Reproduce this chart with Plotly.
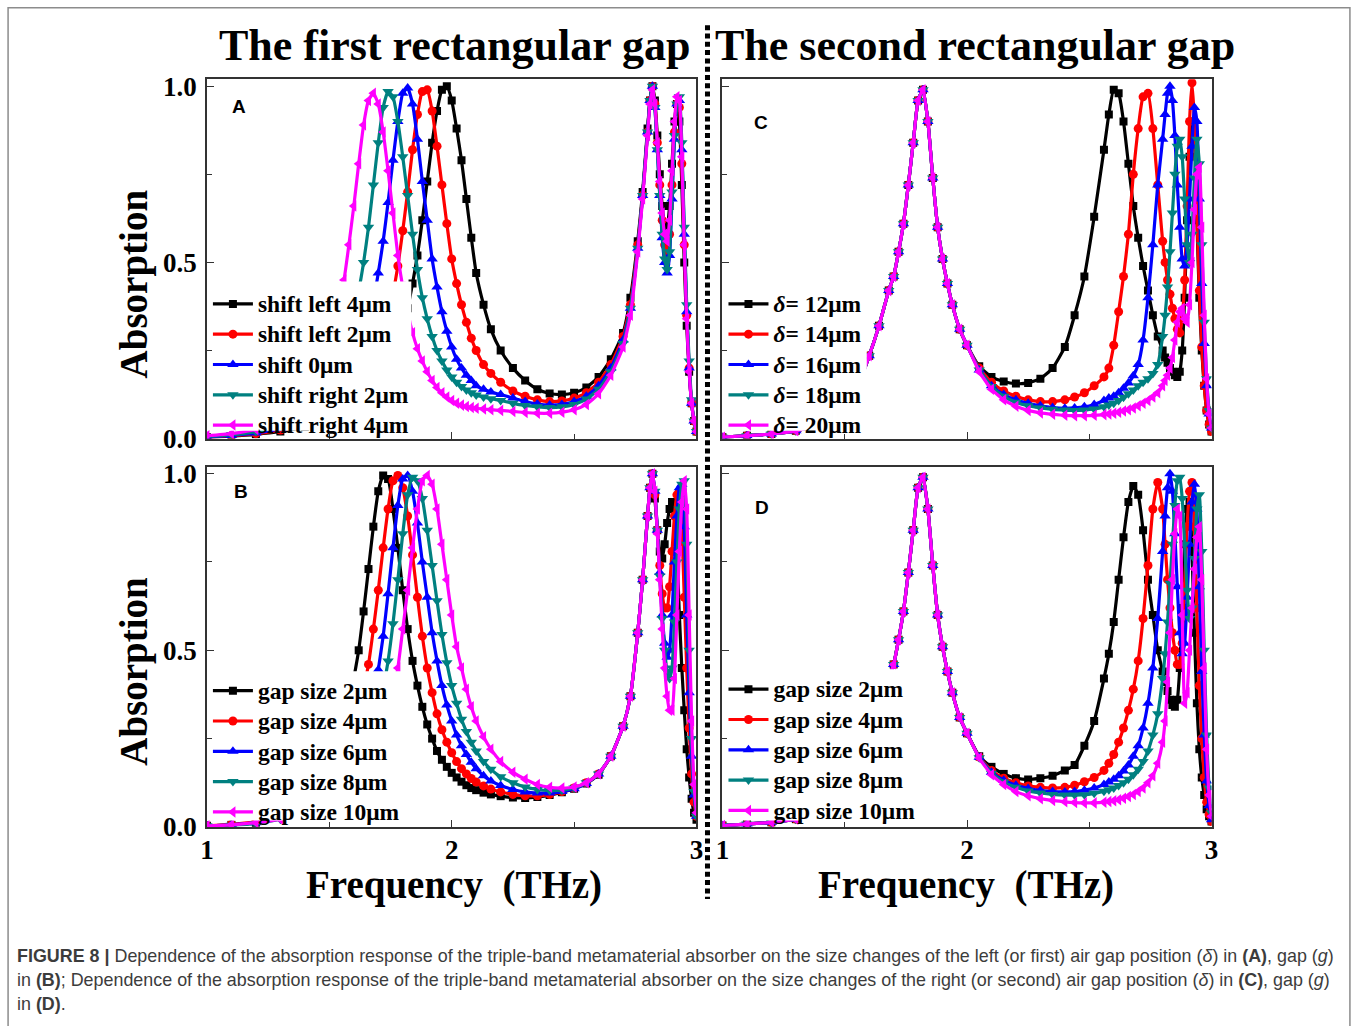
import plotly.graph_objects as go

# ------------------------------------------------------------------ data
# Panels A and B share this frequency grid (THz)
freq_ab = [1.00, 1.10, 1.20, 1.30, 1.40, 1.50,
           1.54, 1.56, 1.58, 1.60, 1.62, 1.64, 1.66, 1.68, 1.70, 1.72, 1.74, 1.76, 1.78, 1.80,
           1.82, 1.84, 1.86, 1.88, 1.90, 1.92, 1.94, 1.96, 1.98, 2.00, 2.02, 2.04, 2.06, 2.08, 2.10,
           2.13, 2.16, 2.20, 2.25, 2.30, 2.35, 2.40, 2.45, 2.50, 2.55, 2.60, 2.65, 2.70,
           2.73, 2.76, 2.78, 2.80, 2.81, 2.82, 2.83, 2.84, 2.85, 2.86, 2.87, 2.88, 2.89,
           2.90, 2.91, 2.92, 2.93, 2.94, 2.95, 2.96, 2.97, 2.98, 2.99, 3.00]

# Panel A : first gap shifted
a_shift_left4 = [0.004, 0.007, 0.012, 0.020, 0.033, 0.055,
                 0.068, 0.075, 0.082, 0.090, 0.100, 0.110, 0.125, 0.140, 0.160, 0.180, 0.205, 0.235, 0.270, 0.320,
                 0.370, 0.440, 0.520, 0.620, 0.730, 0.840, 0.930, 0.990, 1.000, 0.960, 0.880, 0.790, 0.680, 0.570, 0.470,
                 0.380, 0.310, 0.250, 0.200, 0.165, 0.140, 0.128, 0.125, 0.130, 0.145, 0.175, 0.225, 0.300,
                 0.400, 0.560, 0.700, 0.880, 0.960, 1.000, 0.960, 0.860, 0.750, 0.660, 0.610, 0.600, 0.660,
                 0.780, 0.900, 0.950, 0.900, 0.720, 0.500, 0.320, 0.190, 0.100, 0.050, 0.020]
a_shift_left2 = [0.004, 0.008, 0.014, 0.024, 0.040, 0.070,
                 0.085, 0.095, 0.107, 0.120, 0.140, 0.160, 0.185, 0.215, 0.250, 0.295, 0.345, 0.410, 0.490, 0.590,
                 0.700, 0.820, 0.920, 0.985, 0.990, 0.930, 0.830, 0.720, 0.610, 0.510, 0.440, 0.380, 0.330, 0.285, 0.250,
                 0.210, 0.185, 0.160, 0.135, 0.120, 0.110, 0.105, 0.107, 0.115, 0.130, 0.160, 0.210, 0.290,
                 0.380, 0.550, 0.690, 0.870, 0.960, 1.000, 0.950, 0.840, 0.720, 0.620, 0.550, 0.520, 0.580,
                 0.720, 0.870, 0.950, 0.940, 0.780, 0.550, 0.350, 0.200, 0.100, 0.050, 0.020]
a_shift_0 = [0.005, 0.009, 0.016, 0.028, 0.060, 0.100,
             0.130, 0.150, 0.175, 0.200, 0.235, 0.280, 0.330, 0.390, 0.470, 0.560, 0.670, 0.790, 0.900, 0.980,
             0.995, 0.950, 0.850, 0.730, 0.620, 0.510, 0.430, 0.360, 0.305, 0.260, 0.225, 0.200, 0.180, 0.165, 0.150,
             0.140, 0.132, 0.125, 0.115, 0.105, 0.098, 0.095, 0.097, 0.105, 0.120, 0.150, 0.200, 0.280,
             0.370, 0.540, 0.690, 0.870, 0.960, 1.000, 0.940, 0.820, 0.690, 0.570, 0.500, 0.470, 0.520,
             0.680, 0.850, 0.950, 0.960, 0.820, 0.580, 0.360, 0.200, 0.100, 0.050, 0.020]
a_shift_right2 = [0.006, 0.011, 0.020, 0.035, 0.080, 0.160,
                  0.210, 0.250, 0.300, 0.360, 0.420, 0.500, 0.600, 0.720, 0.840, 0.940, 0.985, 0.970, 0.900, 0.800,
                  0.690, 0.580, 0.480, 0.400, 0.340, 0.290, 0.250, 0.220, 0.195, 0.175, 0.160, 0.148, 0.138, 0.130, 0.124,
                  0.118, 0.113, 0.108, 0.100, 0.094, 0.090, 0.088, 0.090, 0.097, 0.112, 0.140, 0.190, 0.270,
                  0.370, 0.540, 0.690, 0.870, 0.960, 1.000, 0.940, 0.820, 0.690, 0.580, 0.510, 0.480, 0.530,
                  0.700, 0.860, 0.950, 0.970, 0.840, 0.600, 0.380, 0.220, 0.110, 0.050, 0.020]
a_shift_right4 = [0.008, 0.014, 0.026, 0.050, 0.130, 0.280,
                  0.380, 0.450, 0.550, 0.660, 0.780, 0.890, 0.960, 0.980, 0.950, 0.870, 0.760, 0.640, 0.520, 0.430,
                  0.360, 0.300, 0.255, 0.220, 0.190, 0.165, 0.145, 0.130, 0.118, 0.108, 0.100, 0.095, 0.091, 0.088, 0.086,
                  0.084, 0.082, 0.080, 0.077, 0.074, 0.072, 0.072, 0.075, 0.082, 0.097, 0.127, 0.180, 0.260,
                  0.350, 0.530, 0.680, 0.860, 0.950, 0.990, 0.950, 0.840, 0.730, 0.640, 0.580, 0.560, 0.620,
                  0.760, 0.900, 0.970, 0.960, 0.800, 0.550, 0.340, 0.190, 0.100, 0.050, 0.020]

# Panel B : first gap size
b_gap2 = [0.003, 0.006, 0.012, 0.030, 0.080, 0.180,
          0.245, 0.290, 0.345, 0.420, 0.500, 0.610, 0.730, 0.850, 0.950, 0.995, 0.985, 0.900, 0.790, 0.670,
          0.560, 0.470, 0.400, 0.340, 0.290, 0.250, 0.215, 0.190, 0.170, 0.153, 0.140, 0.128, 0.118, 0.110, 0.104,
          0.097, 0.092, 0.087, 0.083, 0.082, 0.085, 0.090, 0.098, 0.108, 0.123, 0.148, 0.200, 0.285,
          0.370, 0.550, 0.700, 0.880, 0.960, 1.000, 0.930, 0.840, 0.780, 0.760, 0.800, 0.860, 0.900,
          0.920, 0.900, 0.780, 0.600, 0.450, 0.330, 0.220, 0.140, 0.080, 0.040, 0.020]
b_gap4 = [0.003, 0.007, 0.015, 0.035, 0.070, 0.130,
          0.170, 0.200, 0.230, 0.270, 0.320, 0.390, 0.460, 0.560, 0.670, 0.790, 0.900, 0.980, 0.995, 0.960,
          0.880, 0.770, 0.650, 0.540, 0.450, 0.380, 0.320, 0.275, 0.240, 0.210, 0.185, 0.165, 0.150, 0.137, 0.127,
          0.116, 0.107, 0.099, 0.092, 0.088, 0.088, 0.092, 0.100, 0.110, 0.125, 0.150, 0.200, 0.285,
          0.370, 0.550, 0.700, 0.880, 0.960, 1.000, 0.940, 0.840, 0.740, 0.660, 0.620, 0.620, 0.680,
          0.780, 0.880, 0.940, 0.950, 0.850, 0.650, 0.450, 0.280, 0.150, 0.070, 0.030]
b_gap6 = [0.003, 0.006, 0.012, 0.028, 0.055, 0.090,
          0.120, 0.140, 0.160, 0.185, 0.215, 0.255, 0.300, 0.365, 0.445, 0.540, 0.660, 0.790, 0.910, 0.985,
          0.995, 0.950, 0.860, 0.750, 0.650, 0.550, 0.470, 0.400, 0.345, 0.300, 0.260, 0.230, 0.205, 0.183, 0.165,
          0.145, 0.130, 0.117, 0.106, 0.099, 0.096, 0.096, 0.100, 0.108, 0.123, 0.150, 0.200, 0.285,
          0.370, 0.550, 0.700, 0.880, 0.960, 1.000, 0.950, 0.840, 0.720, 0.600, 0.520, 0.480, 0.500,
          0.600, 0.750, 0.880, 0.960, 0.970, 0.850, 0.600, 0.380, 0.200, 0.090, 0.030]
b_gap8 = [0.003, 0.005, 0.010, 0.022, 0.040, 0.070,
          0.095, 0.110, 0.130, 0.150, 0.170, 0.200, 0.230, 0.270, 0.320, 0.390, 0.470, 0.575, 0.700, 0.830,
          0.940, 0.990, 0.980, 0.930, 0.840, 0.740, 0.640, 0.545, 0.465, 0.400, 0.350, 0.305, 0.270, 0.240, 0.215,
          0.185, 0.163, 0.142, 0.125, 0.113, 0.106, 0.103, 0.104, 0.110, 0.125, 0.150, 0.200, 0.285,
          0.370, 0.550, 0.700, 0.880, 0.960, 1.000, 0.950, 0.840, 0.710, 0.590, 0.500, 0.440, 0.420,
          0.450, 0.580, 0.750, 0.900, 0.970, 0.980, 0.800, 0.500, 0.250, 0.100, 0.030]
b_gap10 = [0.003, 0.006, 0.012, 0.022, 0.040, 0.070,
           0.090, 0.100, 0.110, 0.122, 0.137, 0.155, 0.175, 0.200, 0.230, 0.270, 0.320, 0.380, 0.450, 0.560,
           0.670, 0.790, 0.900, 0.980, 0.995, 0.970, 0.900, 0.800, 0.700, 0.600, 0.510, 0.450, 0.390, 0.340, 0.300,
           0.255, 0.220, 0.185, 0.155, 0.135, 0.120, 0.112, 0.110, 0.113, 0.125, 0.150, 0.200, 0.285,
           0.370, 0.550, 0.700, 0.880, 0.960, 1.000, 0.950, 0.830, 0.700, 0.560, 0.450, 0.370, 0.330,
           0.330, 0.420, 0.600, 0.780, 0.920, 0.980, 0.900, 0.600, 0.300, 0.120, 0.040]

# Panels C and D: the first band (identical for all curves) and the per-curve tails
freq_cd_band1 = [1.00, 1.10, 1.20, 1.30, 1.40, 1.50, 1.56, 1.60, 1.64, 1.68, 1.70, 1.72, 1.74,
                 1.76, 1.78, 1.80, 1.82, 1.84, 1.86, 1.88, 1.90, 1.92, 1.94, 1.97, 2.00]
cd_band1 = [0.004, 0.008, 0.013, 0.022, 0.040, 0.080, 0.160, 0.235, 0.320, 0.420, 0.460, 0.530, 0.610,
            0.720, 0.840, 0.960, 0.990, 0.900, 0.740, 0.600, 0.510, 0.440, 0.380, 0.310, 0.265]
freq_cd_tail = [2.05, 2.10, 2.15, 2.20, 2.25, 2.30, 2.35, 2.40, 2.44, 2.48, 2.52, 2.56,
                2.58, 2.60, 2.62, 2.64, 2.66, 2.68, 2.70, 2.72, 2.74, 2.76, 2.78, 2.80,
                2.81, 2.82, 2.83, 2.84, 2.85, 2.86, 2.87, 2.88, 2.89, 2.90,
                2.91, 2.92, 2.93, 2.94, 2.95, 2.96, 2.97, 2.98, 2.99, 3.00]

# Panel C : second gap position delta
c_delta12 = [0.205, 0.175, 0.162, 0.156, 0.158, 0.170, 0.200, 0.260, 0.350, 0.460, 0.630, 0.820,
             0.920, 0.990, 0.980, 0.900, 0.780, 0.660, 0.570, 0.490, 0.420, 0.350, 0.290, 0.250,
             0.230, 0.215, 0.200, 0.190, 0.180, 0.175, 0.190, 0.250, 0.400, 0.620,
             0.800, 0.900, 0.850, 0.620, 0.400, 0.250, 0.150, 0.080, 0.040, 0.020]
c_delta14 = [0.200, 0.160, 0.135, 0.120, 0.110, 0.105, 0.105, 0.110, 0.118, 0.130, 0.150, 0.175,
             0.200, 0.265, 0.360, 0.460, 0.580, 0.750, 0.880, 0.970, 0.980, 0.880, 0.720, 0.560,
             0.500, 0.450, 0.410, 0.370, 0.340, 0.310, 0.300, 0.340, 0.450, 0.660,
             0.900, 1.010, 0.900, 0.650, 0.420, 0.260, 0.150, 0.080, 0.040, 0.020]
c_delta16 = [0.195, 0.150, 0.125, 0.110, 0.100, 0.093, 0.088, 0.086, 0.087, 0.090, 0.097, 0.108,
             0.115, 0.120, 0.130, 0.143, 0.158, 0.178, 0.210, 0.280, 0.400, 0.550, 0.720, 0.850,
             0.920, 0.980, 1.000, 0.960, 0.860, 0.720, 0.600, 0.510, 0.490, 0.550,
             0.680, 0.830, 0.940, 0.900, 0.680, 0.440, 0.270, 0.150, 0.070, 0.030]
c_delta18 = [0.195, 0.148, 0.120, 0.103, 0.093, 0.087, 0.083, 0.081, 0.080, 0.081, 0.084, 0.090,
             0.095, 0.100, 0.108, 0.117, 0.127, 0.138, 0.150, 0.160, 0.170, 0.185, 0.210, 0.290,
             0.350, 0.430, 0.530, 0.640, 0.750, 0.830, 0.850, 0.800, 0.680, 0.550,
             0.500, 0.580, 0.740, 0.850, 0.780, 0.550, 0.330, 0.170, 0.080, 0.030]
c_delta20 = [0.190, 0.140, 0.110, 0.092, 0.080, 0.073, 0.069, 0.066, 0.065, 0.065, 0.066, 0.068,
             0.070, 0.072, 0.075, 0.078, 0.082, 0.087, 0.093, 0.100, 0.108, 0.118, 0.130, 0.150,
             0.165, 0.180, 0.200, 0.230, 0.280, 0.330, 0.360, 0.370, 0.340, 0.330,
             0.380, 0.500, 0.650, 0.750, 0.770, 0.600, 0.350, 0.170, 0.070, 0.030]

# Panel D : second gap size
d_gap2 = [0.200, 0.170, 0.150, 0.138, 0.134, 0.138, 0.145, 0.160, 0.175, 0.230, 0.300, 0.420,
          0.490, 0.580, 0.700, 0.820, 0.920, 0.965, 0.940, 0.840, 0.700, 0.600, 0.500, 0.440,
          0.410, 0.385, 0.360, 0.345, 0.340, 0.360, 0.450, 0.620, 0.800, 0.900,
          0.920, 0.780, 0.550, 0.350, 0.220, 0.140, 0.090, 0.050, 0.030, 0.015]
d_gap4 = [0.198, 0.160, 0.138, 0.125, 0.116, 0.112, 0.110, 0.112, 0.118, 0.128, 0.140, 0.160,
          0.180, 0.205, 0.240, 0.280, 0.330, 0.390, 0.470, 0.590, 0.740, 0.900, 0.975, 0.900,
          0.800, 0.700, 0.620, 0.550, 0.500, 0.460, 0.460, 0.520, 0.680, 0.850,
          0.950, 0.975, 0.850, 0.620, 0.400, 0.250, 0.140, 0.070, 0.035, 0.015]
d_gap6 = [0.197, 0.155, 0.132, 0.118, 0.109, 0.103, 0.100, 0.099, 0.100, 0.104, 0.110, 0.120,
          0.127, 0.135, 0.145, 0.158, 0.175, 0.200, 0.230, 0.280, 0.350, 0.450, 0.590, 0.780,
          0.880, 0.960, 1.000, 0.950, 0.830, 0.680, 0.550, 0.490, 0.520, 0.650,
          0.800, 0.920, 0.970, 0.900, 0.680, 0.440, 0.260, 0.130, 0.060, 0.020]
d_gap8 = [0.196, 0.152, 0.127, 0.112, 0.102, 0.096, 0.092, 0.090, 0.090, 0.091, 0.095, 0.101,
          0.105, 0.110, 0.117, 0.125, 0.135, 0.148, 0.163, 0.185, 0.215, 0.260, 0.320, 0.420,
          0.490, 0.580, 0.690, 0.800, 0.910, 0.980, 0.990, 0.930, 0.800, 0.670,
          0.590, 0.620, 0.760, 0.900, 0.940, 0.780, 0.500, 0.260, 0.110, 0.040]
d_gap10 = [0.195, 0.148, 0.120, 0.100, 0.088, 0.080, 0.075, 0.071, 0.069, 0.068, 0.068, 0.070,
           0.072, 0.074, 0.077, 0.081, 0.086, 0.092, 0.100, 0.110, 0.125, 0.145, 0.180, 0.240,
           0.300, 0.410, 0.550, 0.700, 0.830, 0.900, 0.880, 0.600, 0.350, 0.380,
           0.500, 0.620, 0.730, 0.820, 0.850, 0.700, 0.450, 0.220, 0.090, 0.030]

names_a = ["shift left 4μm", "shift left 2μm", "shift 0μm", "shift right 2μm", "shift right 4μm"]
names_b = ["gap size 2μm", "gap size 4μm", "gap size 6μm", "gap size 8μm", "gap size 10μm"]
names_c = ["<i>δ</i>= 12μm", "<i>δ</i>= 14μm", "<i>δ</i>= 16μm", "<i>δ</i>= 18μm", "<i>δ</i>= 20μm"]
names_d = ["gap size 2μm", "gap size 4μm", "gap size 6μm", "gap size 8μm", "gap size 10μm"]

x_ticks = [1, 2, 3]
y_ticks = [0, 0.5, 1.0]
y_ticktext = ["0.0", "0.5", "1.0"]

# ------------------------------------------------------------------ styling
# Positions below are given in pixels of the final picture; they are mapped to
# figure pixels with the offset/scale observed for the page capture.
W, H = 1364, 1040
SX, OX = 0.9906, 5.9
SY, OY = 0.978, 8.8
SERIF = "Liberation Serif"
SANS = "Liberation Sans"
colors = ["#000000", "#FF0000", "#0000FF", "#008080", "#FF00FF"]
symbols = ["square", "circle", "triangle-up", "triangle-down", "triangle-left"]
msizes = [8, 9, 10, 10, 10]


def fxp(x):   # picture x -> figure px
    return (x - OX) / SX


def fyp(y):   # picture y -> figure px
    return (y - OY) / SY


def px(x):
    return fxp(x) / W


def py(y):
    return 1 - fyp(y) / H


fig = go.Figure()

panels = [
    ("x", "y", "legend", names_a, [freq_ab] * 5,
     [a_shift_left4, a_shift_left2, a_shift_0, a_shift_right2, a_shift_right4]),
    ("x2", "y2", "legend2", names_c, [freq_cd_band1 + freq_cd_tail] * 5,
     [cd_band1 + s for s in (c_delta12, c_delta14, c_delta16, c_delta18, c_delta20)]),
    ("x3", "y3", "legend3", names_b, [freq_ab] * 5,
     [b_gap2, b_gap4, b_gap6, b_gap8, b_gap10]),
    ("x4", "y4", "legend4", names_d, [freq_cd_band1 + freq_cd_tail] * 5,
     [cd_band1 + s for s in (d_gap2, d_gap4, d_gap6, d_gap8, d_gap10)]),
]

for xa, ya, lg, names, xs, ys in panels:
    for i in range(5):
        assert len(xs[i]) == len(ys[i]), (names[i], len(xs[i]), len(ys[i]))
        fig.add_trace(go.Scatter(
            x=xs[i], y=ys[i], mode="lines+markers",
            name='<span style="font-size:23.5px">' + names[i] + "</span>",
            line=dict(color=colors[i], width=3.2, shape="spline", smoothing=0.5),
            marker=dict(symbol=symbols[i], size=msizes[i], color=colors[i], line=dict(width=0)),
            xaxis=xa, yaxis=ya, legend=lg, hoverinfo="skip"))

xdom_left = [px(206), px(696)]
xdom_right = [px(722), px(1211.5)]
ydom_top = [py(440), py(81)]
ydom_bot = [py(828), py(468)]

tickfont = dict(family=SERIF, size=27, color="black", weight="bold")
axis_common = dict(showline=True, linecolor="#333333", linewidth=1.5, mirror=True,
                   showgrid=False, zeroline=False, ticks="inside", ticklen=7,
                   tickwidth=1.3, tickcolor="#333333", tickfont=tickfont)


def xax(domain, anchor, labels):
    return dict(domain=domain, anchor=anchor, range=[1, 3], tickvals=x_ticks,
                ticktext=[str(v) for v in x_ticks], showticklabels=labels,
                ticklabelstandoff=-2,
                minor=dict(tickvals=[1.5, 2.5], ticks="inside", ticklen=5,
                           tickcolor="#333333", tickwidth=1.3),
                **axis_common)


def yax(domain, anchor, labels):
    return dict(domain=domain, anchor=anchor, range=[0, 1.02], tickvals=y_ticks,
                ticktext=y_ticktext, showticklabels=labels, ticklabelstandoff=3,
                minor=dict(tickvals=[0.25, 0.75], ticks="inside", ticklen=5,
                           tickcolor="#333333", tickwidth=1.3),
                **axis_common)


LEG_FS = 21.0
LEG_H = LEG_FS * 1.3 + 3          # legend row height in figure px


def legend_top(first_row_y):
    return 1 - (fyp(first_row_y) - 5 - LEG_H / 2) / H


legend_common = dict(bgcolor="rgba(0,0,0,0)", borderwidth=0, itemwidth=40,
                     font=dict(family=SERIF, size=LEG_FS, color="black", weight="bold"),
                     xanchor="left", yanchor="top", tracegroupgap=0, itemclick=False,
                     itemdoubleclick=False)

fig.update_layout(
    width=W, height=H, margin=dict(l=0, r=0, t=0, b=0),
    paper_bgcolor="white", plot_bgcolor="white",
    xaxis=xax(xdom_left, "y", False), yaxis=yax(ydom_top, "x", True),
    xaxis2=xax(xdom_right, "y2", False), yaxis2=yax(ydom_top, "x2", False),
    xaxis3=xax(xdom_left, "y3", True), yaxis3=yax(ydom_bot, "x3", True),
    xaxis4=xax(xdom_right, "y4", True), yaxis4=yax(ydom_bot, "x4", False),
    legend=dict(x=px(207), y=legend_top(305), **legend_common),
    legend2=dict(x=px(723), y=legend_top(305), **legend_common),
    legend3=dict(x=px(207), y=legend_top(691.5), **legend_common),
    legend4=dict(x=px(723), y=legend_top(690), **legend_common),
    showlegend=True,
)

# white legend boxes of the original (they hide the curves behind the legends)
masks = [("x", "y", 1.835, 0.022, 0.446),
         ("x2", "y2", 1.59, 0.022, 0.446),
         ("x3", "y3", 1.81, 0.018, 0.441),
         ("x4", "y4", 1.80, 0.018, 0.446)]
shapes = []
for xr, yr, x1, y0, y1 in masks:
    shapes.append(dict(type="rect", xref=xr, yref=yr, x0=1.026, x1=x1, y0=y0, y1=y1,
                       fillcolor="white", line=dict(width=0), layer="above"))
# dotted separator
shapes.append(dict(type="line", xref="paper", yref="paper", x0=px(707), x1=px(707),
                   y0=py(27), y1=py(900), line=dict(color="black", width=5, dash="5px,3.3px")))
# outer frame
shapes.append(dict(type="rect", xref="paper", yref="paper", x0=0.0008, x1=px(1350),
                   y0=0.9992, y1=-0.05, line=dict(color="#8c8c8c", width=1.5),
                   fillcolor="rgba(0,0,0,0)"))
fig.update_layout(shapes=shapes)

ann = []


def add_text(text, x, y, size, family=SERIF, angle=0, xanchor="center", color="black"):
    ann.append(dict(text=text, x=px(x), y=py(y), xref="paper", yref="paper",
                    showarrow=False, textangle=angle, xanchor=xanchor, yanchor="middle",
                    font=dict(family=family, size=size, color=color)))


add_text("<b>The first rectangular gap</b>", 454, 47, 44)
add_text("<b>The second rectangular gap</b>", 975, 47, 44)
add_text("<b>Absorption</b>", 133, 285, 39, angle=-90)
add_text("<b>Absorption</b>", 133, 672, 39, angle=-90)
add_text("<b>Frequency\u00a0 (THz)</b>", 453, 886, 39)
add_text("<b>Frequency\u00a0 (THz)</b>", 966, 886, 39)
add_text("<b>A</b>", 238, 108, 19, family=SANS)
add_text("<b>B</b>", 240, 493, 19, family=SANS)
add_text("<b>C</b>", 761, 124, 19, family=SANS)
add_text("<b>D</b>", 762, 509, 19, family=SANS)

cap_color = "#3c3c3c"
cap1 = ("<b>FIGURE 8 |</b> Dependence of the absorption response of the triple-band metamaterial "
        "absorber on the size changes of the left (or first) air gap position (<i>δ</i>) in "
        "<b>(A)</b>, gap (<i>g</i>)")
cap2 = ("in <b>(B)</b>; Dependence of the absorption response of the triple-band metamaterial "
        "absorber on the size changes of the right (or second) air gap position (<i>δ</i>) in "
        "<b>(C)</b>, gap (<i>g</i>)")
cap3 = "in <b>(D)</b>."
add_text(cap1, 14, 957, 17.9, family=SANS, xanchor="left", color=cap_color)
add_text(cap2, 14, 981, 17.9, family=SANS, xanchor="left", color=cap_color)
add_text(cap3, 14, 1005, 17.9, family=SANS, xanchor="left", color=cap_color)

fig.update_layout(annotations=ann)

fig.write_html("out.html")
